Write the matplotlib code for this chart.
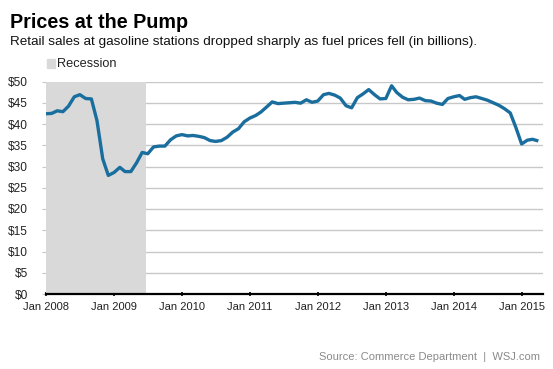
import matplotlib.pyplot as plt
import pandas as pd
from matplotlib.patches import Rectangle

plt.rcParams["font.family"] = ["Liberation Sans", "DejaVu Sans"]

# monthly retail sales at gasoline stations, billions of dollars
months = pd.date_range("2008-01-01", periods=88, freq="MS")
sales = [
    42.4, 42.5, 43.1, 42.9, 44.2, 46.4, 46.9, 46.0, 45.9, 40.8, 31.8, 27.9,
    28.6, 29.8, 28.8, 28.8, 30.8, 33.3, 33.0, 34.6, 34.8, 34.8, 36.3, 37.2,
    37.5, 37.2, 37.3, 37.1, 36.8, 36.1, 35.9, 36.1, 36.9, 38.1, 38.9, 40.5,
    41.4, 42.0, 42.8, 44.0, 45.2, 44.8, 44.9, 45.0, 45.1, 44.9, 45.7, 45.1,
    45.4, 46.9, 47.2, 46.8, 46.1, 44.3, 43.8, 46.2, 47.1, 48.1, 46.9, 45.9,
    46.0, 49.0, 47.4, 46.3, 45.7, 45.8, 46.1, 45.5, 45.4, 44.9, 44.6, 46.0,
    46.4, 46.7, 45.8, 46.2, 46.4, 46.0, 45.6, 45.0, 44.4, 43.6, 42.6, 39.2,
    35.3, 36.2, 36.4, 36.0,
]
recession = ("2008-01-01", "2009-06-22")
year_ticks = pd.to_datetime([f"{y}-01-01" for y in range(2008, 2016)])
year_labels = [f"Jan {y}" for y in range(2008, 2016)]
dollar_ticks = list(range(0, 55, 5))

W, H = 553, 369
fig = plt.figure(figsize=(W / 100, H / 100), dpi=100)
ax = fig.add_axes([46 / W, 1 - 294 / H, (543 - 46) / W, (294 - 81.5) / H])

ax.axvspan(pd.Timestamp(recession[0]), pd.Timestamp(recession[1]),
           color="#d9d9d9", lw=0, zorder=2)
ax.plot(months, sales, color="#1a6e9e", lw=2.4, zorder=3,
        solid_joinstyle="round", solid_capstyle="butt")

ax.set_ylim(0, 50)
ax.set_xlim(pd.Timestamp("2008-01-01"), pd.Timestamp("2015-04-26"))
ax.set_yticks(dollar_ticks)
ax.set_yticklabels([f"${v}" for v in dollar_ticks])
ax.set_xticks(year_ticks)
ax.set_xticklabels(year_labels)
ax.grid(axis="y", color="#c8c8c8", lw=1, zorder=1)
ax.set_axisbelow(True)

for s in ["left", "right", "top"]:
    ax.spines[s].set_visible(False)
ax.spines["bottom"].set_linewidth(1.6)
ax.spines["bottom"].set_color("black")
ax.spines["bottom"].set_zorder(4)

ax.tick_params(axis="y", length=3, color="#c8c8c8", pad=10, labelsize=8.6,
               labelcolor="#222222")
ax.tick_params(axis="x", length=3, width=1.2, color="black", direction="inout",
               pad=4, labelsize=8, labelcolor="#222222")

fig.text(10 / W, 1 - 27.5 / H, "Prices at the Pump", fontsize=14.2,
         fontweight="bold", va="baseline", ha="left")
fig.text(10 / W, 1 - 45 / H,
         "Retail sales at gasoline stations dropped sharply as fuel prices fell (in billions).",
         fontsize=9.7, va="baseline", ha="left", color="#111111")
fig.patches.append(Rectangle((47 / W, 1 - 67.5 / H), 8 / W, 8.5 / H,
                             transform=fig.transFigure, color="#d9d9d9"))
fig.text(57 / W, 1 - 67 / H, "Recession", fontsize=9.2, va="baseline",
         ha="left", color="#222222")
fig.text(540 / W, 1 - 360 / H, "Source: Commerce Department  |  WSJ.com",
         fontsize=8, va="baseline", ha="right", color="#8a8a8a")

fig.savefig("out.png", dpi=100)
